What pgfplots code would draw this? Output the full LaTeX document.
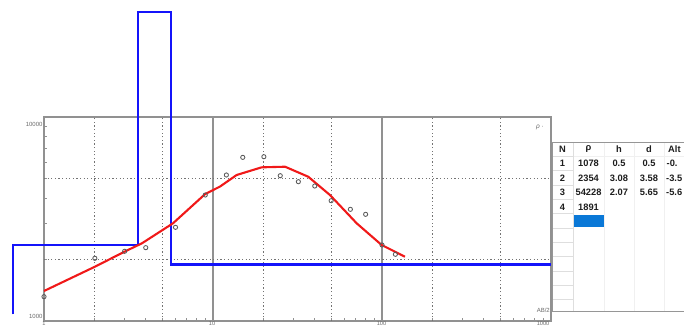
\documentclass[border=0pt]{standalone}
\usepackage{fontspec}
\setmainfont{Liberation Sans}
\usepackage{pgfplots}
\pgfplotsset{compat=1.18}
\definecolor{axgray}{RGB}{145,145,145}
\definecolor{gridgray}{RGB}{115,115,115}
\definecolor{lblgray}{RGB}{105,105,105}
\definecolor{curvered}{RGB}{240,25,25}
\definecolor{modelblue}{RGB}{20,20,250}
\definecolor{selblue}{RGB}{10,120,215}
\definecolor{tblline}{RGB}{222,222,222}
\definecolor{tblfaint}{RGB}{240,240,240}
\definecolor{tblborder}{RGB}{150,150,150}
\definecolor{tbltext}{RGB}{30,30,30}
\begin{document}
\begin{tikzpicture}
\begin{axis}[
  xmode=log, ymode=log,
  scale only axis, width=507pt, height=204pt,
  at={(44pt,-321pt)}, anchor=south west,
  xmin=1, xmax=1000, ymin=1000, ymax=10000,
  axis line style={draw=axgray, line width=1.2pt},
  tick pos=left, tick align=inside,
  xtick={1,10,100,1000}, xticklabels={},
  ytick={1000,10000}, yticklabels={},
  xmajorgrids,
  major grid style={draw=axgray, line width=1.2pt},
  major tick length=0pt, minor tick length=3pt,
  every tick/.style={draw=axgray, line width=0.8pt},
  extra x ticks={2,5,20,50,200,500}, extra x tick labels={},
  extra x tick style={grid=major, major grid style={draw=gridgray, line width=0.9pt, dash pattern=on 1.2pt off 2.4pt}},
  extra y ticks={2000,5000}, extra y tick labels={},
  extra y tick style={grid=major, major grid style={draw=gridgray, line width=0.9pt, dash pattern=on 1.2pt off 2.4pt}},
  clip=false,
]
\addplot[modelblue, line width=2.2pt, line join=miter] coordinates {
  (0.6557,1078) (0.6557,2354) (3.58,2354) (3.58,32720) (5.65,32720) (5.65,1891) (1000,1891)};
\addplot[curvered, line width=2.1pt, line join=round] coordinates {
  (1,1403) (2,1845) (3,2188) (3.8,2404) (5.8,3013) (9,4195) (11,4560) (13.8,5196)
  (19.4,5666) (26.7,5705) (36.6,5096) (49.2,4146) (70.8,3013) (99.5,2358) (136.8,2066)};
\addplot[only marks, mark=o, mark size=2.1pt, mark options={draw=black!65, line width=0.85pt}] coordinates {
  (1,1316) (2,2029) (3,2197) (4,2288) (6,2879) (9,4146) (12,5196) (15,6341) (20,6386)
  (25,5155) (32,4818) (40,4589) (50,3888) (65,3527) (80,3334) (100,2358) (120,2123)};
\end{axis}
% tick labels
\begin{scope}[every node/.style={inner sep=0pt, text=lblgray, font=\fontsize{6}{7}\selectfont}]
\node[anchor=east] at (42.7pt,-124pt) {10000};
\node[anchor=east] at (42.7pt,-316pt) {1000};
\node[anchor=north, font=\fontsize{5.6}{6}\selectfont] at (44pt,-321.5pt) {1};
\node[anchor=north, font=\fontsize{5.6}{6}\selectfont] at (212pt,-321.5pt) {10};
\node[anchor=north, font=\fontsize{5.6}{6}\selectfont] at (381.5pt,-321.5pt) {100};
\node[anchor=north, font=\fontsize{5.6}{6}\selectfont] at (543pt,-321.5pt) {1000};
\node[font=\fontsize{6.5}{7}\selectfont\itshape] at (540pt,-127pt) {ρ ·};
\node[anchor=east] at (550pt,-310.5pt) {AB/2};
\end{scope}
% table
\fill[white] (553pt,-142pt) rectangle (690pt,-311pt);
\foreach \y in {156,170.5,185,199.3,213.6,228,242.3,256.6,271,285.3,299.6}
  \draw[tblline, line width=0.8pt] (553pt,-\y pt) -- (573pt,-\y pt);
\draw[tblfaint, line width=0.8pt] (573pt,-156pt) -- (690pt,-156pt);
\draw[tblline, line width=0.8pt] (573pt,-142pt) -- (573pt,-311pt);
\foreach \x in {604,634,664}
  \draw[tblfaint, line width=0.8pt] (\x pt,-142pt) -- (\x pt,-311pt);
\draw[tblborder, line width=1pt] (684pt,-142pt) -- (552.5pt,-142pt) -- (552.5pt,-311pt) -- (684pt,-311pt);
\fill[selblue] (573.5pt,-215pt) rectangle (603.5pt,-226.5pt);
\begin{scope}[every node/.style={inner sep=0pt, text=tbltext, font=\fontsize{9.3}{10}\selectfont\bfseries}]
\node at (562.5pt,-149pt) {N};
\node at (588.5pt,-149pt) {ρ};
\node at (619pt,-149pt) {h};
\node at (649pt,-149pt) {d};
\node[anchor=west] at (668pt,-149pt) {Alt};
\node at (562.5pt,-163.5pt) {1};
\node at (588.5pt,-163.5pt) {1078};
\node at (619pt,-163.5pt) {0.5};
\node at (649pt,-163.5pt) {0.5};
\node[anchor=west] at (666.5pt,-163.5pt) {-0.};
\node at (562.5pt,-178pt) {2};
\node at (588.5pt,-178pt) {2354};
\node at (619pt,-178pt) {3.08};
\node at (649pt,-178pt) {3.58};
\node[anchor=west] at (666pt,-178pt) {-3.5};
\node at (562.5pt,-192.5pt) {3};
\node at (588.5pt,-192.5pt) {54228};
\node at (619pt,-192.5pt) {2.07};
\node at (649pt,-192.5pt) {5.65};
\node[anchor=west] at (666pt,-192.5pt) {-5.6};
\node at (562.5pt,-207pt) {4};
\node at (588.5pt,-207pt) {1891};
\end{scope}
\pgfresetboundingbox
\path[use as bounding box] (0pt,0pt) rectangle (684pt,-326pt);
\end{tikzpicture}
\end{document}
